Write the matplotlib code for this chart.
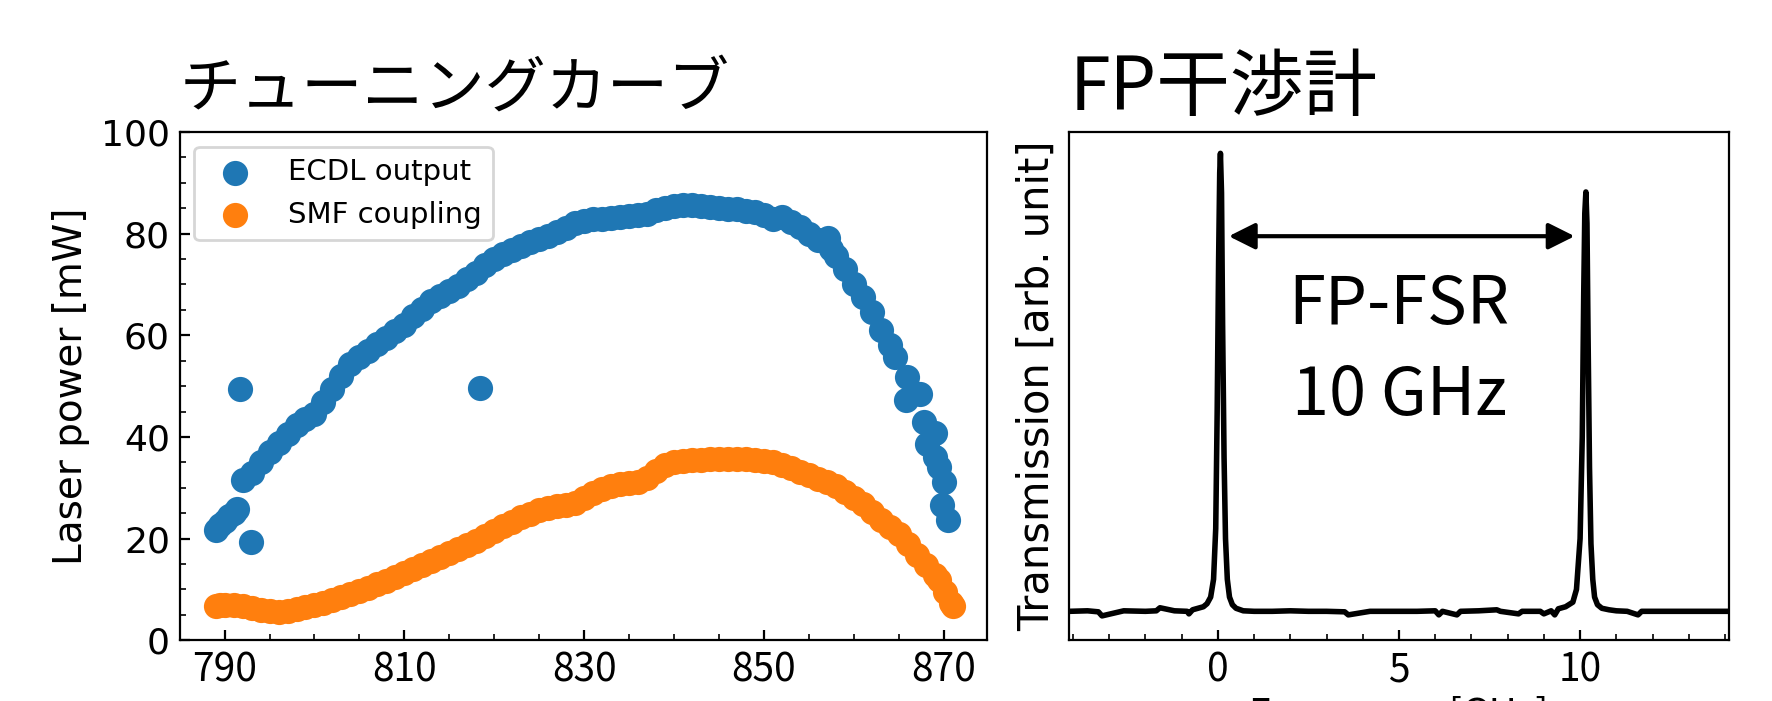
import numpy as np
import matplotlib.pyplot as plt
from matplotlib.ticker import MultipleLocator

JP = 'Noto Sans CJK JP'

# ECDL output power vs wavelength
ecdl_nm = [789.0, 789.5, 790.0, 790.5, 791.0, 791.4, 791.7, 792.1, 792.9, 793.0,
           794.0, 795.0, 796.0, 797.0, 798.0, 799.0, 800.0, 801.0, 802.0, 803.0,
           804.0, 805.0, 806.0, 807.0, 808.0, 809.0, 810.0, 811.0, 812.0, 813.0,
           814.0, 815.0, 816.0, 817.0, 818.0, 818.4, 819.0, 820.0, 821.0, 822.0,
           823.0, 824.0, 825.0, 826.0, 827.0, 828.0, 829.0, 830.0, 831.0, 832.0,
           833.0, 834.0, 835.0, 836.0, 837.0, 838.0, 839.0, 840.0, 841.0, 842.0,
           843.0, 844.0, 845.0, 846.0, 847.0, 848.0, 849.0, 850.0, 851.0, 852.0,
           853.0, 854.0, 855.0, 856.0, 857.1, 857.5, 858.0, 859.0, 860.0, 861.0,
           862.0, 863.0, 864.0, 864.6, 865.8, 865.9, 867.4, 867.8, 868.2, 869.1,
           869.1, 869.5, 869.8, 870.0, 870.5]
ecdl_mw = [21.7, 22.6, 23.5, 24.4, 25.0, 25.8, 49.5, 31.5, 19.4, 33.0,
           35.0, 37.0, 38.8, 40.6, 42.3, 43.6, 44.6, 46.8, 49.5, 52.0,
           54.3, 55.8, 57.0, 58.3, 59.5, 60.8, 62.0, 63.8, 65.2, 66.8,
           67.8, 68.7, 69.8, 71.0, 72.3, 49.7, 73.8, 75.0, 76.0, 76.8,
           77.5, 78.3, 79.0, 79.6, 80.3, 81.2, 82.0, 82.5, 82.8, 82.9,
           83.0, 83.2, 83.4, 83.6, 83.9, 84.6, 85.1, 85.4, 85.6, 85.7,
           85.4, 85.2, 85.1, 84.9, 84.8, 84.5, 84.2, 83.6, 82.8, 83.2,
           82.3, 81.3, 80.0, 78.8, 79.2, 77.0, 75.6, 73.0, 70.0, 67.6,
           64.6, 61.0, 58.0, 55.7, 47.2, 51.8, 48.5, 42.9, 38.7, 40.7,
           36.1, 34.1, 26.6, 31.2, 23.7]

# SMF coupled power vs wavelength
smf_nm = [789.0, 789.5, 790.0, 791.0, 792.0, 793.0, 794.0, 795.0, 796.0, 797.0,
          798.0, 799.0, 800.0, 801.0, 802.0, 803.0, 804.0, 805.0, 806.0, 807.0,
          808.0, 809.0, 810.0, 811.0, 812.0, 813.0, 814.0, 815.0, 816.0, 817.0,
          818.0, 819.0, 820.0, 821.0, 822.0, 823.0, 824.0, 825.0, 826.0, 827.0,
          828.0, 829.0, 830.0, 831.0, 832.0, 833.0, 834.0, 835.0, 836.0, 837.0,
          838.0, 839.0, 840.0, 841.0, 842.0, 843.0, 844.0, 845.0, 846.0, 847.0,
          848.0, 849.0, 850.0, 851.0, 852.0, 853.0, 854.0, 855.0, 856.0, 857.0,
          858.0, 859.0, 860.0, 861.0, 862.0, 863.0, 864.0, 865.0, 866.0, 867.0,
          868.0, 869.0, 869.5, 870.2, 870.8, 871.1]
smf_mw = [6.7, 6.9, 7.0, 6.9, 6.8, 6.4, 6.0, 5.7, 5.6, 5.8,
          6.1, 6.5, 6.9, 7.4, 7.9, 8.5, 9.1, 9.7, 10.3, 11.0,
          11.7, 12.4, 13.2, 14.0, 14.8, 15.6, 16.4, 17.2, 18.0, 18.8,
          19.6, 20.5, 21.5, 22.5, 23.3, 24.2, 24.9, 25.6, 26.1, 26.4,
          26.6, 27.0, 28.0, 29.0, 29.8, 30.4, 30.8, 31.0, 31.2, 32.0,
          33.4, 34.4, 35.0, 35.3, 35.4, 35.5, 35.6, 35.6, 35.7, 35.7,
          35.7, 35.5, 35.3, 35.0, 34.4, 33.8, 33.2, 32.5, 31.8, 31.2,
          30.3, 29.2, 28.0, 26.8, 25.2, 23.6, 22.2, 21.0, 19.0, 16.8,
          14.8, 12.8, 11.9, 9.5, 7.4, 6.8]

# FP transmission trace
fp_ghz = [-4.1, -3.6, -3.3, -3.2, -2.6, -2.0, -1.7, -1.6, -1.2, -0.85, -0.8, -0.7,
          -0.6, -0.5, -0.4, -0.3, -0.2, -0.12, -0.06, -0.02, 0.02, 0.05, 0.07,
          0.10, 0.13, 0.17, 0.21, 0.26, 0.32, 0.40, 0.50, 0.70, 1.0, 1.5, 2.0,
          2.5, 3.0, 3.5, 3.6, 4.2, 4.8, 5.5, 6.0, 6.1, 6.2, 6.6, 6.7, 7.2, 7.7,
          7.8, 8.3, 8.4, 8.9, 9.0, 9.2, 9.3, 9.4, 9.6, 9.8, 9.9, 10.0, 10.06,
          10.1, 10.13, 10.16, 10.19, 10.22, 10.26, 10.3, 10.35, 10.4, 10.48,
          10.6, 10.8, 11.0, 11.3, 11.6, 11.7, 12.2, 12.8, 13.4, 14.1]
fp_trans = [0.057, 0.058, 0.056, 0.048, 0.058, 0.057, 0.058, 0.064, 0.058, 0.057, 0.052, 0.060,
            0.062, 0.064, 0.066, 0.072, 0.085, 0.12, 0.22, 0.45, 0.75, 0.92, 0.958,
            0.88, 0.62, 0.36, 0.20, 0.12, 0.085, 0.07, 0.063, 0.058, 0.057, 0.057, 0.058,
            0.057, 0.057, 0.056, 0.050, 0.057, 0.057, 0.057, 0.058, 0.050, 0.057, 0.050, 0.057, 0.058, 0.060,
            0.057, 0.052, 0.057, 0.057, 0.052, 0.058, 0.050, 0.062, 0.066, 0.075, 0.10, 0.20, 0.40,
            0.68, 0.84, 0.882, 0.82, 0.60, 0.34, 0.19, 0.12, 0.085, 0.07,
            0.063, 0.060, 0.058, 0.057, 0.050, 0.057, 0.057, 0.057, 0.057, 0.057]

plt.rcParams['xtick.direction'] = 'in'
plt.rcParams['ytick.direction'] = 'in'

fig = plt.figure(figsize=(8.86, 3.505), dpi=200)
ax1 = fig.add_axes([0.1014, 0.0866, 0.4554, 0.7251])
ax2 = fig.add_axes([0.6035, 0.0866, 0.3720, 0.7251])

# tuning curve
ax1.scatter(ecdl_nm, ecdl_mw, s=65, color='tab:blue', label='ECDL output')
ax1.scatter(smf_nm, smf_mw, s=65, color='tab:orange', label='SMF coupling')
ax1.set_xlim(785, 874.8)
ax1.set_ylim(0, 100)
ax1.set_xticks([790, 810, 830, 850, 870])
ax1.xaxis.set_minor_locator(MultipleLocator(5))
ax1.yaxis.set_minor_locator(MultipleLocator(5))
ax1.set_xticklabels(['790', '810', '830', '850', '870'], family=JP, fontsize=14)
ax1.tick_params(axis='y', labelsize=13)
ax1.set_ylabel('Laser power [mW]', fontsize=14)
ax1.legend(loc='upper left', fontsize=10.5)
ax1.set_title('チューニングカーブ', loc='left', family=JP, fontsize=22, pad=9)

# FP interferometer
ax2.plot(fp_ghz, fp_trans, color='black', lw=2)
ax2.set_xlim(-4.1, 14.1)
ax2.set_ylim(0, 1)
ax2.set_yticks([])
ax2.set_xticks([0, 5, 10])
ax2.xaxis.set_minor_locator(MultipleLocator(1))
ax2.set_xticklabels(['0', '5', '10'], family=JP, fontsize=14)
ax2.set_ylabel('Transmission [arb. unit]', fontsize=15)
ax2.set_xlabel('Frequency [GHz]', family=JP, fontsize=14, labelpad=2)
ax2.annotate('', xy=(0.3, 0.795), xytext=(9.85, 0.795),
             arrowprops=dict(arrowstyle='<|-|>', color='black', lw=1.5,
                             mutation_scale=20, shrinkA=0, shrinkB=0))
ax2.text(5, 0.57, 'FP-FSR\n10 GHz', ha='center', va='center',
         family=JP, fontsize=24, linespacing=1.45)
ax2.set_title('FP干渉計', loc='left', family=JP, fontsize=26.5, pad=8)

fig.savefig('out.png', dpi=200)
